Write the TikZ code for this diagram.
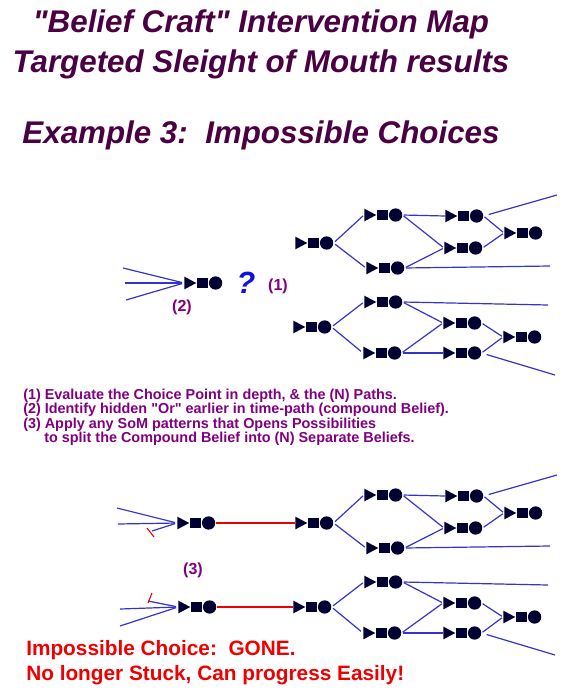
\documentclass[tikz,border=0pt]{standalone}
\usepackage{fontspec}
\setmainfont{Liberation Sans}
\definecolor{titlec}{HTML}{4A0042}
\definecolor{notec}{HTML}{800080}
\definecolor{navy}{HTML}{000033}
\definecolor{lineblue}{HTML}{3434CC}
\definecolor{qblue}{HTML}{1010E0}
\definecolor{redc}{HTML}{EE0000}
\tikzset{
  glyph/.style={rectangle, inner sep=0pt, minimum width=28.5pt, minimum height=10.5pt, anchor=west,
    path picture={
      \fill[navy] ([yshift=4.8pt]path picture bounding box.west) -- ++(9pt,-4.8pt) -- ++(-9pt,-4.8pt) -- cycle;
      \fill[navy] ([xshift=9.6pt,yshift=-4pt]path picture bounding box.west) rectangle ++(8pt,8pt);
      \fill[navy] ([xshift=23.5pt]path picture bounding box.west) circle[radius=5pt];
    }},
  conn/.style={draw=lineblue, line width=0.9pt},
  redl/.style={draw=redc, line width=0.8pt},
  titletxt/.style={font=\fontsize{23.5pt}{28pt}\bfseries\itshape, text=titlec, inner sep=0pt, anchor=base},
  notetxt/.style={font=\fontsize{10.8pt}{13pt}\bfseries, text=notec, inner sep=0pt, anchor=base west},
  numtxt/.style={font=\fontsize{12pt}{14pt}\bfseries, text=notec, inner sep=0pt},
  redtxt/.style={font=\fontsize{15.6pt}{18pt}\bfseries, text=redc, inner sep=0pt, anchor=base west}
}
\newcommand\bothtrees[2]{%
  % upper tree
  \node[glyph] (#1a) at (295,{243+#2}) {};
  \node[glyph] (#1b) at (364,{215+#2}) {};
  \node[glyph] (#1c) at (366,{268+#2}) {};
  \node[glyph] (#1d) at (445,{216+#2}) {};
  \node[glyph] (#1e) at (444,{248+#2}) {};
  \node[glyph] (#1f) at (504,{233+#2}) {};
  \coordinate (#1o1) at (550,{266+#2});
  \coordinate (#1o2) at (557,{195+#2});
  % lower tree
  \node[glyph] (#1g) at (293,{327+#2}) {};
  \node[glyph] (#1h) at (364,{302+#2}) {};
  \node[glyph] (#1i) at (363,{353+#2}) {};
  \node[glyph] (#1j) at (443,{323+#2}) {};
  \node[glyph] (#1k) at (443,{353+#2}) {};
  \node[glyph] (#1l) at (503,{337+#2}) {};
  \coordinate (#1o3) at (548,{305+#2});
  \coordinate (#1o4) at (555,{375+#2});
  \draw[conn, shorten <=1.5pt, shorten >=1pt] (#1a.east) -- (#1b.west);
  \draw[conn, shorten <=1.5pt, shorten >=1pt] (#1a.east) -- (#1c.west);
  \draw[conn, shorten <=1pt] (#1b.east) -- (#1d.west);
  \draw[conn, shorten <=1pt, shorten >=1pt] (#1b.east) -- (#1e.west);
  \draw[conn, shorten <=1pt, shorten >=1pt] (#1c.east) -- (#1e.west);
  \draw[conn, shorten <=1pt] (#1c.east) -- (#1o1);
  \draw[conn, shorten <=4pt] (#1d.east) -- (#1o2);
  \draw[conn, shorten <=1pt, shorten >=1pt] (#1d.east) -- (#1f.west);
  \draw[conn, shorten <=1pt, shorten >=1pt] (#1e.east) -- (#1f.west);
  \draw[conn, shorten <=1.5pt, shorten >=1pt] (#1g.east) -- (#1h.west);
  \draw[conn, shorten <=1.5pt, shorten >=2pt] (#1g.east) -- (#1i.west);
  \draw[conn, shorten <=1pt] (#1h.east) -- (#1o3);
  \draw[conn, shorten <=1pt, shorten >=1pt] (#1h.east) -- (#1j.west);
  \draw[conn, shorten <=1pt, shorten >=1pt] (#1i.east) -- (#1j.west);
  \draw[conn, shorten <=1pt] (#1i.east) -- (#1k.west);
  \draw[conn, shorten <=1pt, shorten >=1pt] (#1j.east) -- (#1l.west);
  \draw[conn, shorten <=1pt, shorten >=1pt] (#1k.east) -- (#1l.west);
  \draw[conn, shorten <=4pt] (#1k.east) -- (#1o4);
}
\begin{document}
\begin{tikzpicture}[x=0.75pt,y=-0.75pt]
\useasboundingbox[fill=white] (0,0) rectangle (580,700);

% titles
\node[titletxt] (t1) at (261,32) {\textquotedbl Belief Craft\textquotedbl{} Intervention Map};
\node[titletxt] (t2) at (261,72) {Targeted Sleight of Mouth results};
\node[titletxt] (t3) at (261,143) {Example 3:\ \ Impossible Choices};

% choice point
\node[glyph] (p0) at (184,283) {};
\coordinate (pf1) at (123,268);
\coordinate (pf2) at (125,283);
\coordinate (pf3) at (126,300);
\foreach \c in {pf1,pf2,pf3} \draw[conn, shorten >=1.5pt] (\c) -- (p0.west);
\node[font=\fontsize{23pt}{26pt}\bfseries\itshape, text=qblue, inner sep=0pt] (q) at (246,283) {?};
\node[numtxt] (n1) at (278,286) {(1)};
\node[numtxt] (n2) at (182,307) {(2)};

\bothtrees{u}{0}

% notes
\node[notetxt] (l1) at (23,399) {(1) Evaluate the Choice Point in depth, \& the (N) Paths.};
\node[notetxt] (l2) at (23,413.5) {(2) Identify hidden \textquotedbl Or\textquotedbl{} earlier in time-path (compound Belief).};
\node[notetxt] (l3) at (23,428) {(3) Apply any SoM patterns that Opens Possibilities};
\node[notetxt] (l4) at (44,442.5) {to split the Compound Belief into (N) Separate Beliefs.};

% lower half
\bothtrees{w}{280}
\node[glyph] (e1) at (177,523) {};
\node[glyph] (e2) at (178,607) {};
\coordinate (ea) at (117,508);
\coordinate (eb) at (118,524);
\coordinate (ec) at (152,531);
\coordinate (ta1) at (147,528);
\coordinate (ta2) at (154,537);
\draw[conn, shorten >=1.5pt] (ea) -- (e1.west);
\draw[conn, shorten >=1.5pt] (eb) -- (e1.west);
\draw[conn, shorten >=1.5pt] (ec) -- (e1.west);
\draw[redl] (ta1) -- (ta2);
\coordinate (fa) at (120,609);
\coordinate (fb) at (120,626);
\coordinate (fc) at (148,601);
\coordinate (tb1) at (152,593);
\coordinate (tb2) at (148,603);
\draw[conn, shorten >=1.5pt] (fa) -- (e2.west);
\draw[conn, shorten >=1.5pt] (fb) -- (e2.west);
\draw[conn, shorten >=1.5pt] (fc) -- (e2.west);
\draw[redl] (tb1) -- (tb2);
\draw[redl, shorten <=0.5pt] (e1.east) -- (wa.west);
\draw[redl, shorten <=0.5pt] (e2.east) -- (wg.west);
\node[numtxt] (n3) at (193,570) {(3)};

\node[redtxt] (r1) at (26,655) {Impossible Choice:\ \ GONE.};
\node[redtxt] (r2) at (26,680) {No longer Stuck, Can progress Easily!};
\end{tikzpicture}
\end{document}
